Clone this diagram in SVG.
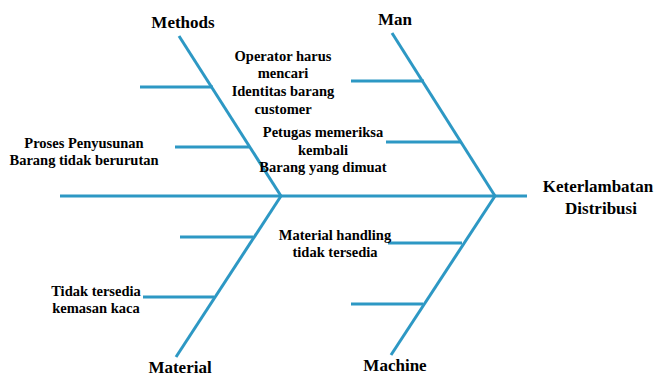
<svg xmlns="http://www.w3.org/2000/svg" width="658" height="376" viewBox="0 0 658 376">
<style>
.b{stroke:#2D98C4;stroke-width:3;fill:none;stroke-linecap:butt}
text{font-family:"Liberation Serif","Times New Roman",serif;font-weight:bold;fill:#000;text-anchor:middle}
.h{font-size:17px}
.s{font-size:14.5px}
</style>
<rect width="658" height="376" fill="#fff"/>
<g id="connectors">
<line class="b" x1="60" y1="196" x2="527" y2="196"/>
<line class="b" x1="179" y1="36" x2="281" y2="196"/>
<line class="b" x1="140" y1="87" x2="213" y2="87"/>
<line class="b" x1="175" y1="147" x2="249" y2="147"/>
<line class="b" x1="392" y1="33" x2="495" y2="196"/>
<line class="b" x1="351" y1="81" x2="424" y2="81"/>
<line class="b" x1="386" y1="142" x2="461" y2="142"/>
<line class="b" x1="281" y1="196" x2="176" y2="357"/>
<line class="b" x1="180" y1="237" x2="253" y2="237"/>
<line class="b" x1="143" y1="297" x2="214" y2="297"/>
<line class="b" x1="495" y1="196" x2="391" y2="355"/>
<line class="b" x1="388" y1="243" x2="462" y2="243"/>
<line class="b" x1="351" y1="304" x2="423" y2="304"/>
</g>
<g id="effect"><text class="h" x="598" y="192">Keterlambatan</text><text class="h" x="601" y="214">Distribusi</text></g>
<g id="methods"><text class="h" x="183" y="28">Methods</text></g>
<g id="man"><text class="h" x="395" y="25">Man</text></g>
<g id="material"><text class="h" x="180" y="373">Material</text></g>
<g id="machine"><text class="h" x="395" y="371">Machine</text></g>
<g id="c-operator"><text class="s" x="283" y="61">Operator harus</text><text class="s" x="283" y="78">mencari</text><text class="s" x="283" y="96">Identitas barang</text><text class="s" x="283" y="114">customer</text></g>
<g id="c-petugas"><text class="s" x="323" y="137">Petugas memeriksa</text><text class="s" x="323" y="155">kembali</text><text class="s" x="323" y="172">Barang yang dimuat</text></g>
<g id="c-proses"><text class="s" x="84" y="148">Proses Penyusunan</text><text class="s" x="84" y="165">Barang tidak berurutan</text></g>
<g id="c-handling"><text class="s" x="335" y="240">Material handling</text><text class="s" x="335" y="257">tidak tersedia</text></g>
<g id="c-kaca"><text class="s" x="96" y="296">Tidak tersedia</text><text class="s" x="96" y="313">kemasan kaca</text></g>
</svg>
